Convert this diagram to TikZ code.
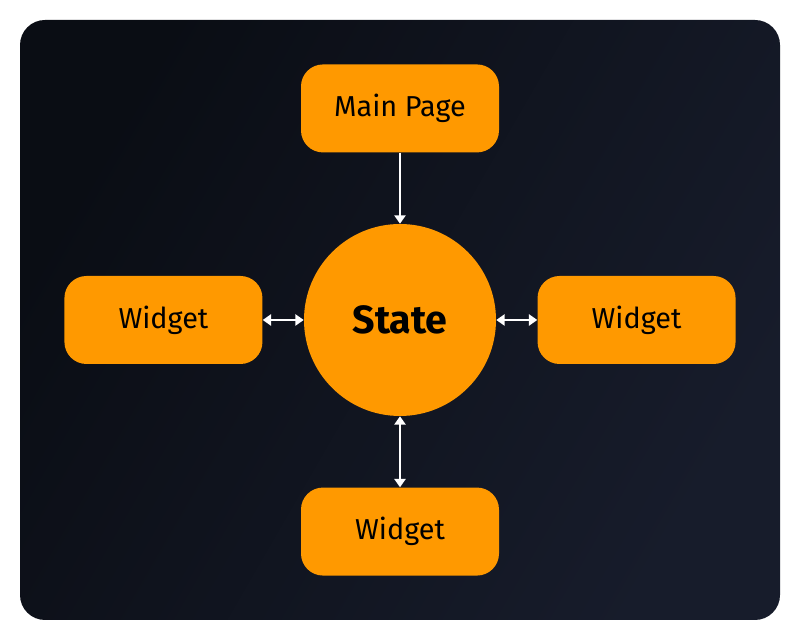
\documentclass[tikz,border=0pt]{standalone}
\usepackage{fontspec}
\setmainfont{Fira Sans}
\usepackage{tikz}
\usetikzlibrary{positioning, arrows.meta}

\definecolor{bgdark}{HTML}{0A0D14}
\definecolor{bglight}{HTML}{171C2B}
\definecolor{boxorange}{HTML}{FF9900}

\begin{document}
\begin{tikzpicture}[>={Triangle[length=6pt,width=8pt]},
    pagebox/.style={draw=none, fill=boxorange, rounded corners=0.55cm, minimum width=4.95cm, minimum height=2.2cm, font=\fontsize{20.5}{24}\selectfont},
    statecircle/.style={circle, fill=boxorange, minimum size=4.8cm, font=\fontsize{28}{33}\selectfont\bfseries},
    link/.style={draw=white, line width=1.4pt}]
    \useasboundingbox (0,0) rectangle (20,16);
    \fill[white] (0,0) rectangle (20,16);
    \shade[rounded corners=0.625cm, left color=bgdark, right color=bglight, shading angle=60] (0.5,0.5) rectangle (19.5,15.5);

    \node[statecircle] (state) at (10,8) {State};
    \node[pagebox, above=1.775cm of state] (main_page) {Main Page};
    \node[pagebox, left=1.025cm of state] (widget_left) {Widget};
    \node[pagebox, right=1.025cm of state] (widget_right) {Widget};
    \node[pagebox, below=1.775cm of state] (widget_bottom) {Widget};

    \draw[link, ->] (main_page) -- (state);
    \draw[link, <->] (widget_left) -- (state);
    \draw[link, <->] (widget_right) -- (state);
    \draw[link, <->] (widget_bottom) -- (state);
\end{tikzpicture}
\end{document}
